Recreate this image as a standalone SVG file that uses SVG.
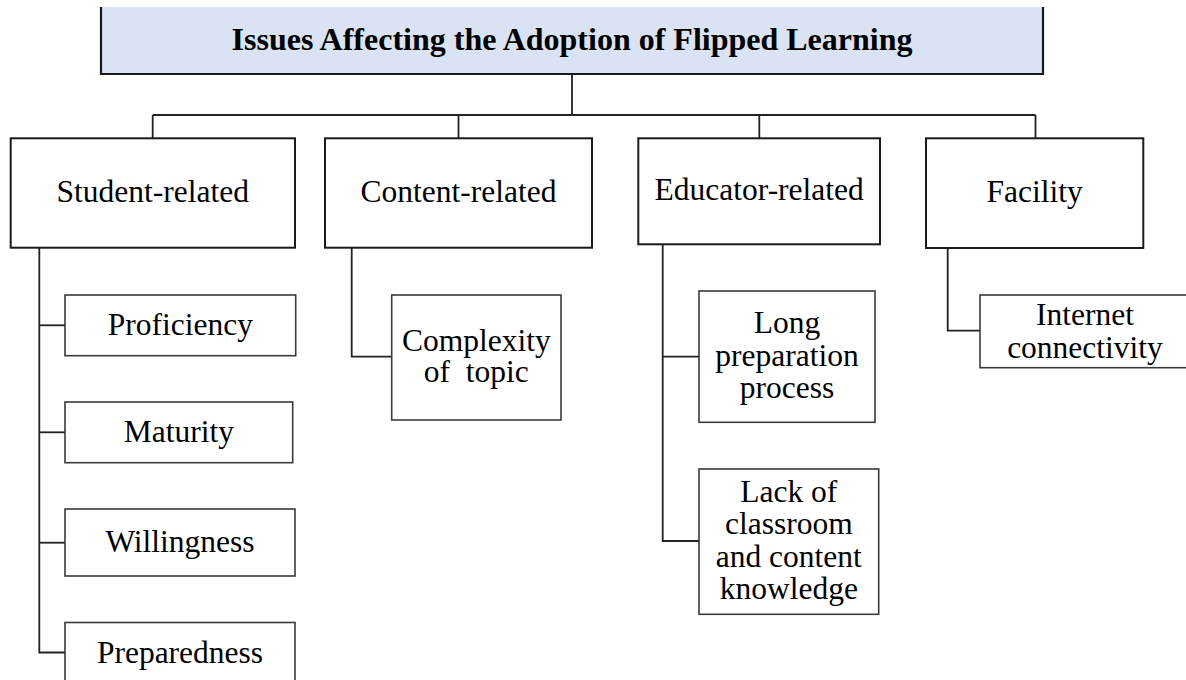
<svg xmlns="http://www.w3.org/2000/svg" width="1186" height="680" viewBox="0 0 1186 680" font-family="'Liberation Serif', 'Times New Roman', Times, serif">
  <style>
    text { font-family: 'Liberation Serif', 'Times New Roman', Times, serif; }
    .lbl { font-size: 31.5px; fill: #000; text-anchor: middle; }
    .title { font-size: 32px; font-weight: bold; fill: #000; text-anchor: middle; }
    .main { fill: #fff; stroke: #1a1a1a; stroke-width: 2; }
    .sub { fill: #fff; stroke: #3a3a3a; stroke-width: 1.6; }
    .conn { fill: none; stroke: #222; stroke-width: 1.8; }
  </style>

  <rect width="1186" height="680" fill="#fff"/>

  <!-- root node: open at the top edge -->
  <g id="root">
    <rect x="101" y="7" width="942" height="67" fill="#dae3f3"/>
    <path d="M101,7 V74 H1043 V7" fill="none" stroke="#1a1a1a" stroke-width="2.2"/>
    <text class="title" x="572" y="50" font-family="Liberation Serif">Issues Affecting the Adoption of Flipped Learning</text>
  </g>

  <!-- connectors -->
  <g id="connectors" class="conn">
    <path d="M572,75 V115"/>
    <path d="M152.7,115 H1035.5"/>
    <path d="M152.7,115 V138"/>
    <path d="M458.5,115 V138"/>
    <path d="M759.3,115 V138"/>
    <path d="M1035.5,115 V138"/>
    <!-- student branch -->
    <path d="M39.3,248 V652.5 H65"/>
    <path d="M39.3,325.3 H65"/>
    <path d="M39.3,432.3 H65"/>
    <path d="M39.3,542.7 H65"/>
    <!-- content branch -->
    <path d="M351.7,248 V356.7 H392"/>
    <!-- educator branch -->
    <path d="M662.7,244 V541 H699"/>
    <path d="M662.7,356.7 H699"/>
    <!-- facility branch -->
    <path d="M947.7,248 V330.7 H980"/>
  </g>

  <!-- category nodes -->
  <g id="student-related">
    <rect class="main" x="10.7" y="138.3" width="284.3" height="109.4"/>
    <text class="lbl" x="152.8" y="201.7" font-family="Liberation Serif">Student-related</text>
  </g>
  <g id="content-related">
    <rect class="main" x="325" y="138.3" width="267" height="109.4"/>
    <text class="lbl" x="458.5" y="201.7" font-family="Liberation Serif">Content-related</text>
  </g>
  <g id="educator-related">
    <rect class="main" x="638.3" y="138.3" width="241.7" height="106"/>
    <text class="lbl" x="759.2" y="200" font-family="Liberation Serif">Educator-related</text>
  </g>
  <g id="facility">
    <rect class="main" x="926" y="138.3" width="217.3" height="109.7"/>
    <text class="lbl" x="1034.7" y="201.7" font-family="Liberation Serif">Facility</text>
  </g>

  <!-- student sub-issues -->
  <g id="proficiency">
    <rect class="sub" x="65" y="295" width="230.7" height="60.7"/>
    <text class="lbl" x="180.3" y="335" font-family="Liberation Serif">Proficiency</text>
  </g>
  <g id="maturity">
    <rect class="sub" x="65" y="402" width="227.7" height="60.7"/>
    <text class="lbl" x="178.8" y="441.7" font-family="Liberation Serif">Maturity</text>
  </g>
  <g id="willingness">
    <rect class="sub" x="65" y="509" width="230" height="67"/>
    <text class="lbl" x="180" y="551.7" font-family="Liberation Serif">Willingness</text>
  </g>
  <g id="preparedness">
    <rect class="sub" x="65" y="622.5" width="230" height="70"/>
    <text class="lbl" x="180" y="663.3" font-family="Liberation Serif">Preparedness</text>
  </g>

  <!-- content sub-issue -->
  <g id="complexity">
    <rect class="sub" x="391.7" y="295" width="169.3" height="125"/>
    <text class="lbl" font-family="Liberation Serif"><tspan x="476.3" y="350.7">Complexity</tspan><tspan x="476.3" y="381.7">of&#160; topic</tspan></text>
  </g>

  <!-- educator sub-issues -->
  <g id="long-preparation">
    <rect class="sub" x="699" y="291" width="176" height="131.3"/>
    <text class="lbl" font-family="Liberation Serif"><tspan x="787" y="333">Long</tspan><tspan x="787" y="365.5">preparation</tspan><tspan x="787" y="398">process</tspan></text>
  </g>
  <g id="lack-of-knowledge">
    <rect class="sub" x="699" y="469" width="179.7" height="145.3"/>
    <text class="lbl" font-family="Liberation Serif"><tspan x="788.8" y="501.5">Lack of</tspan><tspan x="788.8" y="534">classroom</tspan><tspan x="788.8" y="566.5">and content</tspan><tspan x="788.8" y="599">knowledge</tspan></text>
  </g>

  <!-- facility sub-issue -->
  <g id="internet">
    <rect class="sub" x="980" y="295" width="215" height="72.7"/>
    <text class="lbl" font-family="Liberation Serif"><tspan x="1085" y="325">Internet</tspan><tspan x="1085" y="358">connectivity</tspan></text>
  </g>
</svg>
